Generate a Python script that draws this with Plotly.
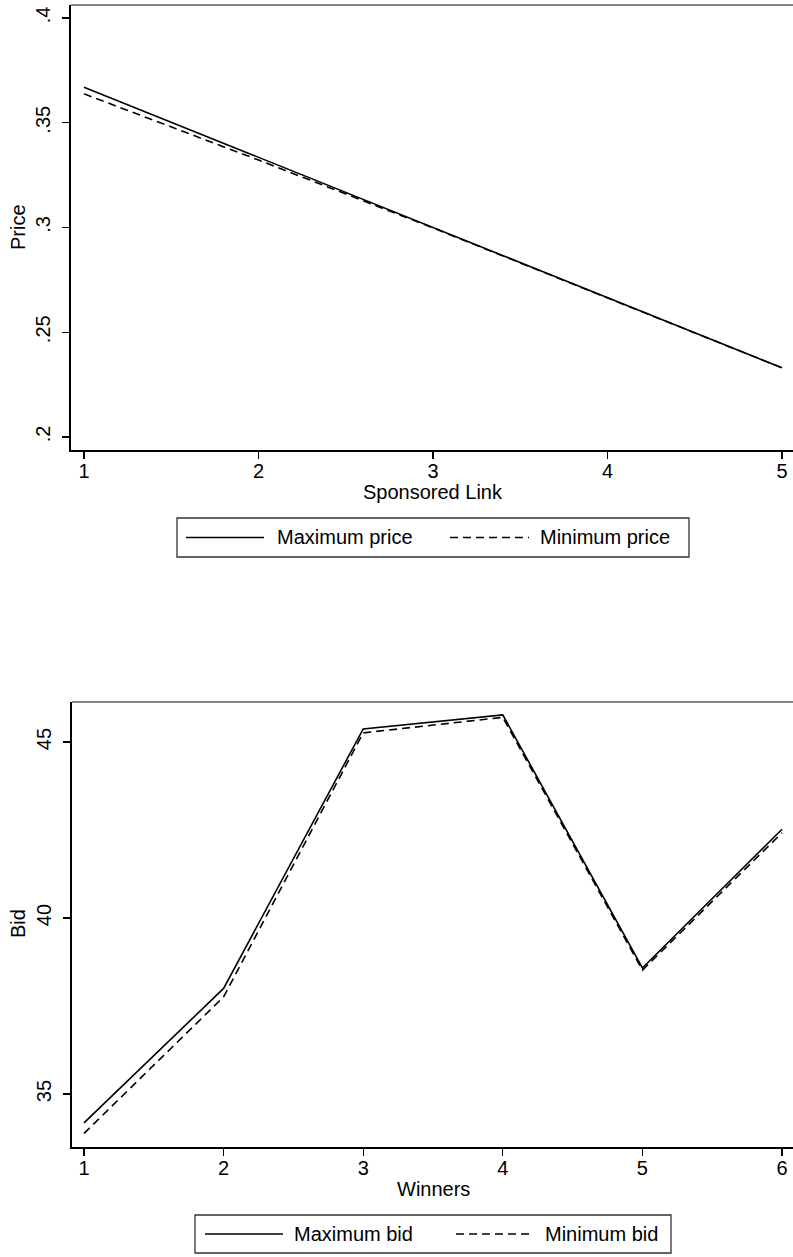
import plotly.graph_objects as go

# ---- data ----
links = [1, 2, 3, 4, 5]
max_price = [0.367, 0.3335, 0.3000, 0.2665, 0.2330]
min_price = [0.3638, 0.3322, 0.2998, 0.2663, 0.2330]

winners = [1, 2, 3, 4, 5, 6]
max_bid = [34.18, 38.00, 45.37, 45.77, 38.58, 42.52]
min_bid = [33.88, 37.76, 45.26, 45.70, 38.52, 42.42]

price_ticks = [0.2, 0.25, 0.3, 0.35, 0.4]
price_ticktext = [".2", ".25", ".3", ".35", ".4"]
bid_ticks = [35, 40, 45]

W, H = 793, 1257
FONT = "Liberation Sans, Arial, Helvetica, sans-serif"
FS = 20
DASH = "8px,5px"

def px(x):
    return x / W

def py(y):
    return 1 - y / H

fig = go.Figure()
fig.add_trace(go.Scatter(x=links, y=max_price, mode="lines", name="Maximum price",
                         line=dict(color="black", width=1.6), xaxis="x", yaxis="y"))
fig.add_trace(go.Scatter(x=links, y=min_price, mode="lines", name="Minimum price",
                         line=dict(color="black", width=1.6, dash=DASH), xaxis="x", yaxis="y"))
fig.add_trace(go.Scatter(x=winners, y=max_bid, mode="lines", name="Maximum bid",
                         line=dict(color="black", width=1.6), xaxis="x2", yaxis="y2"))
fig.add_trace(go.Scatter(x=winners, y=min_bid, mode="lines", name="Minimum bid",
                         line=dict(color="black", width=1.6, dash=DASH), xaxis="x2", yaxis="y2"))

axis_common = dict(showgrid=False, zeroline=False, showline=True, linecolor="black",
                   linewidth=1.6, ticks="outside", ticklen=7, tickwidth=1.2,
                   tickcolor="black", tickfont=dict(family=FONT, size=FS, color="black"))

fig.update_layout(
    width=W, height=H, margin=dict(l=0, r=0, t=0, b=0),
    paper_bgcolor="white", plot_bgcolor="white", showlegend=False,
    font=dict(family=FONT, size=FS, color="black"),
    xaxis=dict(domain=[px(71), 1], range=[1 - 13 / 174.5, 5 + 11 / 174.5],
               tickvals=links, anchor="y", ticklabelstandoff=-5, **axis_common),
    yaxis=dict(domain=[py(450), py(5)], range=[0.2 - 13 / 2095, 0.4 + 13 / 2095],
               tickvals=price_ticks, ticktext=price_ticktext, tickangle=-90,
               ticklabelstandoff=4, anchor="x", **axis_common),
    xaxis2=dict(domain=[px(72), 1], range=[1 - 12 / 139.6, 6 + 11 / 139.6],
                tickvals=winners, anchor="y2", ticklabelstandoff=-5, **axis_common),
    yaxis2=dict(domain=[py(1147), py(702)], range=[35 - 53 / 35.2, 45 + 40 / 35.2],
                tickvals=bid_ticks, tickangle=-90, ticklabelstandoff=4, anchor="x2",
                **axis_common),
)

shapes = []
annotations = []

# gray top borders of plot regions
for ytop, xl in [(5, 71), (702, 72)]:
    shapes.append(dict(type="line", xref="paper", yref="paper", x0=px(xl), x1=1,
                       y0=py(ytop), y1=py(ytop), line=dict(color="#5a5a5a", width=1.6)))

# axis titles
annotations.append(dict(text="Sponsored Link", xref="paper", yref="paper", x=px(433), y=py(492),
                        showarrow=False, xanchor="center", yanchor="middle", font=dict(size=FS)))
annotations.append(dict(text="Price", xref="paper", yref="paper", x=px(18), y=py(227),
                        showarrow=False, textangle=-90, xanchor="center", yanchor="middle",
                        font=dict(size=FS)))
annotations.append(dict(text="Winners", xref="paper", yref="paper", x=px(433), y=py(1189),
                        showarrow=False, xanchor="center", yanchor="middle", font=dict(size=FS)))
annotations.append(dict(text="Bid", xref="paper", yref="paper", x=px(18), y=py(924),
                        showarrow=False, textangle=-90, xanchor="center", yanchor="middle",
                        font=dict(size=FS)))

# custom legends
def legend(box, items):
    x0, y0, x1, y1 = box
    shapes.append(dict(type="rect", xref="paper", yref="paper", x0=px(x0), x1=px(x1),
                       y0=py(y1), y1=py(y0), line=dict(color="#333333", width=1.3),
                       fillcolor="white", layer="below"))
    ym = (y0 + y1) / 2
    for (ls, le, tx, label, dash) in items:
        shapes.append(dict(type="line", xref="paper", yref="paper", x0=px(ls), x1=px(le),
                           y0=py(ym), y1=py(ym),
                           line=dict(color="black", width=1.6, dash=dash)))
        annotations.append(dict(text=label, xref="paper", yref="paper", x=px(tx), y=py(ym),
                                showarrow=False, xanchor="left", yanchor="middle",
                                font=dict(size=FS)))

legend((177, 518, 689, 557), [(186, 264, 275, "Maximum price", "solid"),
                              (450, 529, 538, "Minimum price", DASH)])
legend((195, 1215, 671, 1253), [(205, 283, 292, "Maximum bid", "solid"),
                                (456, 534, 543, "Minimum bid", DASH)])

fig.update_layout(shapes=shapes, annotations=annotations)
fig.write_html("out.html", config={"displayModeBar": False, "staticPlot": True},
               post_script="document.body.style.margin='0';document.body.style.overflow='hidden';")
